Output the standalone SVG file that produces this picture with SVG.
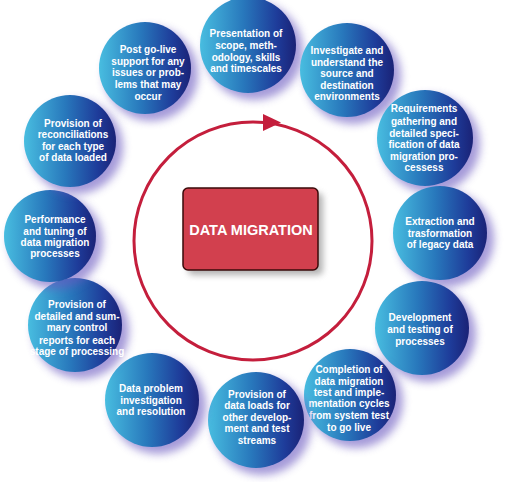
<svg xmlns="http://www.w3.org/2000/svg" width="506" height="482" viewBox="0 0 506 482">
<defs>
<linearGradient id="ball" x1="0" y1="0" x2="1" y2="0">
<stop offset="0" stop-color="#48bde0"/>
<stop offset="0.45" stop-color="#2878bc"/>
<stop offset="0.8" stop-color="#1e3c9a"/>
<stop offset="1" stop-color="#1a2276"/>
</linearGradient>
<filter id="blur" x="-30%" y="-30%" width="160%" height="160%"><feGaussianBlur stdDeviation="4.5"/></filter>
<filter id="bshadow" x="-20%" y="-20%" width="140%" height="140%"><feGaussianBlur stdDeviation="3"/></filter>
<style>
.shadow{fill:#6a58c0;opacity:0.6;filter:url(#blur)}
.ball{fill:url(#ball)}
.t{font-family:"Liberation Sans",Arial,sans-serif;font-weight:bold;font-size:10px;fill:#ffffff;text-anchor:middle}
</style>
</defs>
<g id="connectors">
<circle cx="253" cy="241" r="119" fill="none" stroke="#c41e3c" stroke-width="3"/>
<polygon points="263,114 281,122.5 263,131" fill="#c41e3c"/>
</g>
<g id="center">
<rect x="188" y="193" width="135" height="82" rx="5" fill="#808080" opacity="0.6" filter="url(#bshadow)"/>
<rect x="183" y="188" width="135" height="82" rx="5" fill="#d2404e" stroke="#3a0a0a" stroke-width="1.5"/>
<text x="251" y="235" font-family="Liberation Sans,Arial,sans-serif" font-weight="bold" font-size="14.5" fill="#fff" text-anchor="middle">DATA MIGRATION</text>
</g>
<g id="n1"><circle class="shadow" cx="254" cy="51" r="49"/><circle class="ball" cx="248" cy="45" r="48"/>
<text class="t"><tspan x="246" y="37">Presentation of</tspan><tspan x="246" y="49">scope, meth-</tspan><tspan x="246" y="61">odology, skills</tspan><tspan x="246" y="72">and timescales</tspan></text></g>
<g id="n2"><circle class="shadow" cx="353" cy="76" r="48"/><circle class="ball" cx="347" cy="70" r="47"/>
<text class="t"><tspan x="347" y="54">Investigate and</tspan><tspan x="347" y="66">understand the</tspan><tspan x="347" y="77">source and</tspan><tspan x="347" y="89">destination</tspan><tspan x="347" y="100">environments</tspan></text></g>
<g id="n3"><circle class="shadow" cx="431" cy="144" r="49"/><circle class="ball" cx="425" cy="138" r="48"/>
<text class="t"><tspan x="424" y="112">Requirements</tspan><tspan x="424" y="125">gathering and</tspan><tspan x="424" y="137">detailed speci-</tspan><tspan x="424" y="148">fication of data</tspan><tspan x="424" y="160">migration pro-</tspan><tspan x="424" y="171">cessess</tspan></text></g>
<g id="n4"><circle class="shadow" cx="446" cy="239" r="48"/><circle class="ball" cx="440" cy="233" r="47"/>
<text class="t"><tspan x="440" y="225">Extraction and</tspan><tspan x="440" y="237">trasformation</tspan><tspan x="440" y="248">of legacy data</tspan></text></g>
<g id="n5"><circle class="shadow" cx="428" cy="334" r="48"/><circle class="ball" cx="422" cy="328" r="47"/>
<text class="t"><tspan x="420" y="321">Development</tspan><tspan x="420" y="333">and testing of</tspan><tspan x="420" y="345">processes</tspan></text></g>
<g id="n6"><circle class="shadow" cx="356" cy="401" r="47"/><circle class="ball" cx="350" cy="395" r="46"/>
<text class="t"><tspan x="349" y="373">Completion of</tspan><tspan x="349" y="385">data migration</tspan><tspan x="349" y="396">test and imple-</tspan><tspan x="349" y="407">mentation cycles</tspan><tspan x="349" y="419">from system test</tspan><tspan x="349" y="431">to go live</tspan></text></g>
<g id="n7"><circle class="shadow" cx="262" cy="426" r="49"/><circle class="ball" cx="256" cy="420" r="48"/>
<text class="t"><tspan x="257" y="398">Provision of</tspan><tspan x="257" y="409">data loads for</tspan><tspan x="257" y="421">other develop-</tspan><tspan x="257" y="432">ment and test</tspan><tspan x="257" y="444">streams</tspan></text></g>
<g id="n8"><circle class="shadow" cx="158" cy="406" r="48"/><circle class="ball" cx="152" cy="400" r="47"/>
<text class="t"><tspan x="151" y="392">Data problem</tspan><tspan x="151" y="404">investigation</tspan><tspan x="151" y="415">and resolution</tspan></text></g>
<g id="n9"><circle class="shadow" cx="81" cy="331" r="48"/><circle class="ball" cx="75" cy="325" r="47"/>
<text class="t"><tspan x="77" y="308">Provision of</tspan><tspan x="77" y="320">detailed and sum-</tspan><tspan x="77" y="331">mary control</tspan><tspan x="77" y="344">reports for each</tspan><tspan x="77" y="355">stage of processing</tspan></text></g>
<g id="n10"><circle class="shadow" cx="56" cy="242" r="47"/><circle class="ball" cx="50" cy="236" r="46"/>
<text class="t"><tspan x="55" y="223">Performance</tspan><tspan x="55" y="235">and tuning of</tspan><tspan x="55" y="246">data migration</tspan><tspan x="55" y="257">processes</tspan></text></g>
<g id="n11"><circle class="shadow" cx="76" cy="147" r="47"/><circle class="ball" cx="70" cy="141" r="46"/>
<text class="t"><tspan x="73" y="127">Provision of</tspan><tspan x="73" y="138">reconciliations</tspan><tspan x="73" y="150">for each type</tspan><tspan x="73" y="161">of data loaded</tspan></text></g>
<g id="n12"><circle class="shadow" cx="151" cy="74" r="47"/><circle class="ball" cx="145" cy="68" r="46"/>
<text class="t"><tspan x="148" y="53">Post go-live</tspan><tspan x="148" y="65">support for any</tspan><tspan x="148" y="76">issues or prob-</tspan><tspan x="148" y="88">lems that may</tspan><tspan x="148" y="100">occur</tspan></text></g>
</svg>
